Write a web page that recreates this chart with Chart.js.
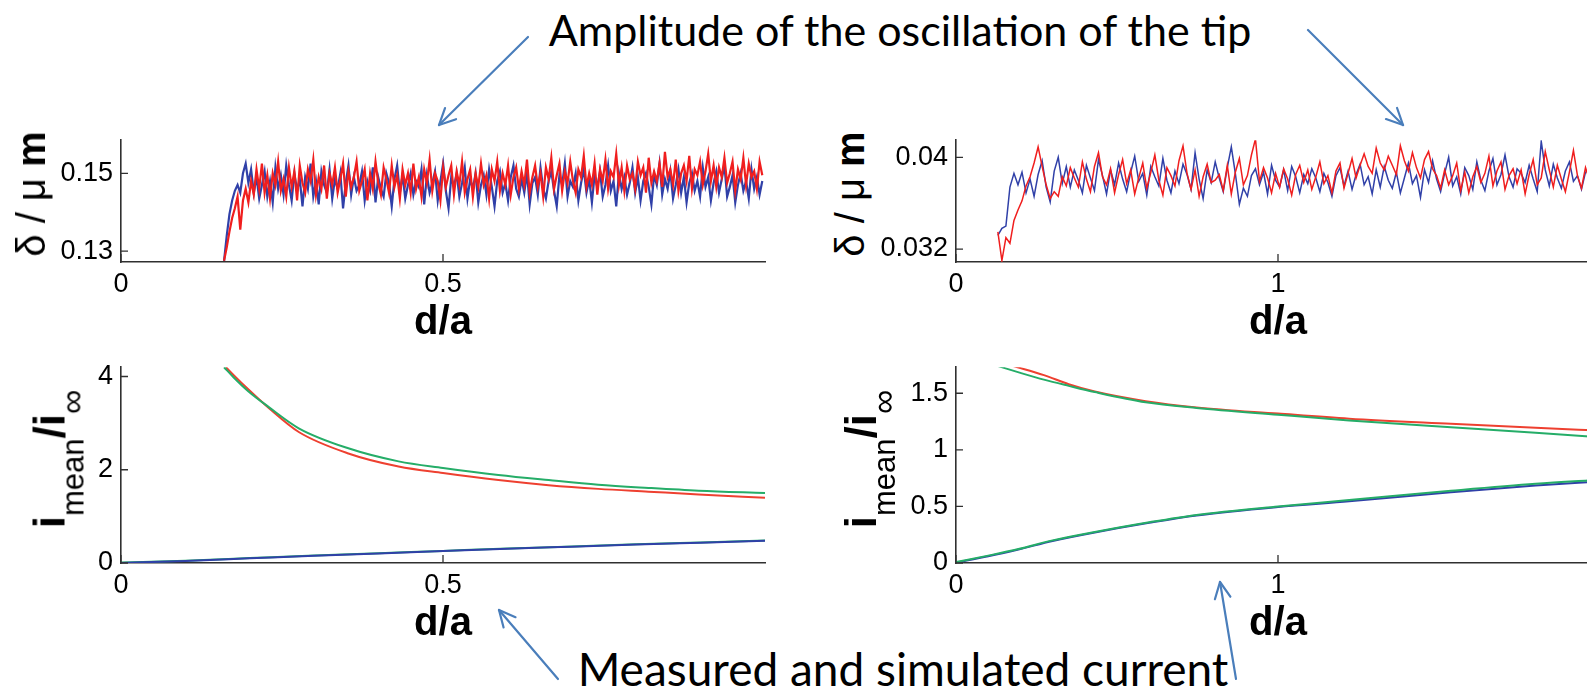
<!DOCTYPE html>
<html>
<head>
<meta charset="utf-8">
<script src="https://cdn.jsdelivr.net/npm/chart.js@4.4.1/dist/chart.umd.min.js"></script>
<style>
html, body { margin: 0; padding: 0; width: 1587px; height: 698px; overflow: hidden; background: #fff; }
canvas { position: absolute; }
.note { position: absolute; font-family: Lato, "Open Sans", sans-serif; color: #000; white-space: nowrap; line-height: 1; transform: translateX(-50%); }
.ylab { position: absolute; font-family: "Liberation Sans", Arial, sans-serif; color: #000; white-space: nowrap; line-height: 1; transform: translate(-50%, -50%) rotate(-90deg); }
.ylab sub { font-size: 31px; vertical-align: -19px; line-height: 1; }
svg { position: absolute; left: 0; top: 0; }
</style>
</head>
<body>
<div class="note" style="left:900px; top:8px; font-size:43px;">Amplitude of the oscillation of the tip</div>
<div class="note" style="left:903px; top:646px; font-size:46px;">Measured and simulated current</div>

<canvas id="ampLeft"></canvas>
<canvas id="ampRight"></canvas>
<canvas id="curLeft"></canvas>
<canvas id="curRight"></canvas>

<div class="ylab" style="left:31px; top:194px; font-size:40px;">δ / μ <b>m</b></div>
<div class="ylab" style="left:850px; top:194px; font-size:40px;">δ / μ <b>m</b></div>
<div class="ylab" style="left:58px; top:459px; font-size:44px;"><b>i</b><sub>mean</sub><b>/i</b><sub style="font-size:34px;">∞</sub></div>
<div class="ylab" style="left:869px; top:459px; font-size:44px;"><b>i</b><sub>mean</sub><b>/i</b><sub style="font-size:34px;">∞</sub></div>

<svg id="arrows" width="1587" height="698"></svg>

<script>
// ---- top row: tip oscillation amplitude, values in nm (plotted in µm) ----
const ampLeftStart = 0.16, ampLeftStep = 0.0042;
const ampLeftRed = [
  127.5,131,135,138.5,141,144,135.5,143,146,142.5,
  148,144.5,151,146,152.5,145,149.5,143.5,150,147,153,145.5,148.5,144,151.5,146.5,150.5,143,152,147.5,
  145,151,148,153.5,144.5,149,146,152,143.5,150,147,151.5,145,148.5,152.5,144,150.5,146.5,149,153,
  145.5,148,151,143,150,146,153,147.5,144.5,151.5,148.5,145,152,146.5,149.5,143.5,151,147,150,145,
  152.5,146,149,144,151,147.5,153.5,145.5,150,148,143,151.5,146.5,149.5,152,144.5,150.5,147,153,145,
  148.5,151,144,150,146.5,152.5,147,149.5,143.5,151,148,153,145.5,150,147,152,144.5,149,151.5,146,
  150.5,147,153.5,145,149,152,146.5,150,144,151.5,148.5,154,146,149.5,152.5,145.5,150.5,147.5,153,148,
  145,151,149,154.5,146.5,150,147,152.5,144.5,151,148,153.5,146,150.5,149,155,147,151.5,145.5,152,
  148.5,150,146,153,149.5,151.5,145,154,147.5,150.5,148,152.5,146.5,155.5,149,151,147,153.5,145.5,150,
  152,148,154.5,146,151,149.5,153,147,150.5,155,148,152,146.5,151.5,149,154,147.5,150,153,145.5,
  151,148.5,154,147,152.5,149,150.5,146,153,149.5
];
const ampLeftBlue = [
  127.5,134,139.5,143,145.5,147,145,150,152.5,147.5,
  151,145,149,143.5,147,150.5,144,148,142.5,151.5,146,149.5,144.5,152,147,143,150,145.5,148.5,141.5,
  149,146,152.5,144,148,142,150.5,147,145,151,143.5,148.5,146,150,141,147.5,152,144.5,149,145.5,
  147,150.5,143,148,145.5,151.5,142.5,149,146,144,150,147.5,141.5,148.5,152,145,149.5,143.5,147,150,
  144.5,148,146.5,151,142,149.5,145,147.5,150.5,143,148,152.5,145.5,141,149,146.5,150,144,147.5,151.5,
  143.5,148.5,146,150,142.5,147,149.5,144.5,151,146.5,141.5,148,150.5,145,147.5,143,149,152,146,144,
  148.5,145,150,142,147.5,149,144.5,151.5,146,143.5,148,150.5,145.5,141.5,149.5,147,152.5,144,148,146.5,
  150,143,147.5,151,145,148.5,142.5,149.5,146.5,150.5,144,147,152,145.5,148,141.5,150,146,149,144.5,
  147.5,151.5,145,149,143,148,150,146.5,142,149.5,147,152.5,144.5,148.5,146,150.5,143.5,147,151,145,
  149,142.5,147.5,150,145.5,148,144,151.5,146.5,149,143,147.5,150.5,145,148.5,152,144,146.5,149.5,142.5,
  147,150,145.5,148,143.5,151,146,149,144.5,148
];

const ampRightStart = 0.13, ampRightStep = 0.0125;
const ampRightRed = [
  33.5,31.0,33.0,32.5,34.5,35.4,36.2,37.5,38.3,39.5,40.9,39.2,37.6,36.4,37.0,36.6,38.3,37.5,39.1,38.2,
  37.4,39.6,38.1,37.0,39.2,40.4,38.3,37.6,39.0,36.9,
  38.5,39.8,37.7,38.9,36.8,38.2,39.5,37.3,38.7,40.2,
  38.0,36.7,39.1,38.4,37.5,39.7,41.0,38.6,37.2,38.9,
  36.6,38.3,39.4,37.8,38.0,38.5,37.1,39.3,36.8,38.7,
  39.9,37.6,38.4,40.2,41.6,37.9,39.1,38.2,36.9,38.6,
  37.4,39.0,38.1,36.7,38.5,39.3,37.8,38.9,37.2,38.3,
  39.6,37.7,38.4,36.9,38.8,39.5,37.3,38.6,39.9,38.2,
  39.3,40.3,39.2,38.6,40.8,39.5,38.9,40.1,39.3,38.5,
  41.0,39.7,38.8,40.4,39.1,38.2,39.8,40.5,39.0,38.4,
  37.3,38.9,37.6,38.4,39.5,37.1,38.7,36.9,38.3,39.2,
  37.8,38.6,40.1,37.5,38.8,39.6,37.2,38.4,39.0,37.7,
  38.9,36.8,38.5,39.8,37.6,38.2,40.5,38.9,37.4,39.3,
  38.1,37.0,38.7,40.6,38.4,37.3,39.1,38.0,37.6,38.8
];
const ampRightBlue = [
  33.2,33.8,34.0,37.4,38.6,37.6,38.7,36.9,38.1,36.6,38.5,39.7,37.4,36.1,38.8,40.0,37.7,39.2,37.4,38.9,
  38.0,36.9,39.3,38.2,37.1,39.8,38.4,36.8,38.9,37.6,
  39.5,38.1,37.0,38.7,40.1,37.9,38.6,36.7,39.2,38.3,
  37.5,39.9,38.0,36.9,38.8,37.7,39.4,38.5,37.2,40.4,
  38.1,36.4,38.9,37.8,39.6,38.2,37.0,39.1,40.9,38.6,
  35.9,37.3,36.6,38.4,39.0,37.6,38.7,36.8,39.3,38.0,
  37.4,38.9,37.1,39.2,38.3,36.9,38.5,37.7,39.0,38.2,
  37.0,38.6,37.8,36.6,38.4,39.1,37.5,38.8,37.2,38.5,
  39.4,37.6,38.3,36.8,38.9,37.4,39.2,38.0,37.3,38.7,
  36.9,38.2,39.5,37.7,38.4,36.5,38.9,37.8,39.7,38.1,
  37.0,38.6,40.0,37.5,38.3,36.8,39.1,38.4,37.2,39.6,
  38.0,37.1,38.8,39.9,37.6,38.5,40.2,38.3,37.4,39.0,
  38.6,37.8,39.3,38.1,37.0,41.4,38.9,37.5,39.4,38.2,
  37.3,38.8,39.6,37.9,38.4,37.2,38.7,38.9,37.6,38.4
];

// ---- bottom row: normalised mean current ----
const curLeftGreenUpX = [0.16,0.175,0.198,0.229,0.276,0.353,0.431,0.5,0.586,0.664,0.741,0.819,0.897,1.0];
const curLeftGreenUp  = [4.2,3.98,3.68,3.35,2.89,2.46,2.18,2.04,1.89,1.78,1.68,1.61,1.55,1.50];
const curLeftRedX = [0.163,0.175,0.198,0.229,0.276,0.353,0.431,0.5,0.586,0.664,0.741,0.819,0.897,1.0];
const curLeftRed  = [4.2,4.03,3.72,3.33,2.81,2.35,2.07,1.93,1.78,1.67,1.59,1.53,1.47,1.40];
const curLeftLowX = [0,0.1,0.2,0.3,0.4,0.5,0.6,0.7,0.8,0.9,1.0];
const curLeftGreenLow = [0.01,0.05,0.105,0.16,0.21,0.26,0.31,0.355,0.40,0.44,0.48];
const curLeftBlue     = [0.0,0.045,0.10,0.155,0.205,0.255,0.305,0.35,0.395,0.435,0.475];

const curRightGreenUpX = [0.131,0.2,0.273,0.35,0.431,0.589,0.747,1.0,1.221,1.537,1.8,2.0];
const curRightGreenUp  = [1.74,1.68,1.62,1.565,1.51,1.42,1.37,1.31,1.26,1.20,1.15,1.11];
const curRightRedX = [0.178,0.273,0.35,0.431,0.589,0.747,1.0,1.221,1.537,1.8,2.0];
const curRightRed  = [1.74,1.66,1.58,1.515,1.43,1.375,1.32,1.275,1.23,1.195,1.17];
const curRightLowX = [0,0.1,0.194,0.3,0.431,0.6,0.747,1.0,1.221,1.537,1.8,2.0];
const curRightGreenLow = [0.008,0.065,0.123,0.20,0.274,0.36,0.425,0.50,0.556,0.638,0.70,0.735];
const curRightBlue     = [0.005,0.06,0.12,0.195,0.27,0.355,0.42,0.495,0.545,0.625,0.685,0.72];

// tick values (the right panels are cut at the page edge, before x = 2)
const ampLeftXTicks = [0, 0.5], ampLeftYTicks = [0.13, 0.15];
const ampRightXTicks = [0, 1], ampRightYTicks = [0.032, 0.04];
const curLeftXTicks = [0, 0.5], curLeftYTicks = [0, 2, 4];
const curRightXTicks = [0, 1], curRightYTicks = [0, 0.5, 1, 1.5];

const RED = '#f01e1e', BLUE = '#3040a8', GREEN = '#25ad68', CRED = '#ee4030';
const AXIS = '#303030';
const FONT = '"Liberation Sans", Arial, sans-serif';

function evenSeries(start, step, vals, scale) {
    return vals.map((v, i) => ({ x: start + i * step, y: v * scale }));
}
function pairSeries(xs, ys) {
    return xs.map((x, i) => ({ x: x, y: ys[i] }));
}

// MATLAB style inward tick marks
const inwardTicks = {
    id: 'inwardTicks',
    afterDatasetsDraw(chart) {
        const { ctx, chartArea, scales } = chart;
        ctx.save();
        ctx.strokeStyle = AXIS;
        ctx.lineWidth = 1.3;
        ctx.beginPath();
        scales.x.ticks.forEach(t => {
            const px = scales.x.getPixelForValue(t.value);
            ctx.moveTo(px, chartArea.bottom);
            ctx.lineTo(px, chartArea.bottom - 8);
        });
        scales.y.ticks.forEach(t => {
            const py = scales.y.getPixelForValue(t.value);
            ctx.moveTo(chartArea.left, py);
            ctx.lineTo(chartArea.left + 7, py);
        });
        ctx.stroke();
        ctx.restore();
    }
};

function makePanel(id, box, xMax, yMin, yMax, xTicks, yTicks, datasets) {
    const padTop = 10, padRight = 5, yW = 80, xH = 85;
    const canvas = document.getElementById(id);
    canvas.width = (box.right - box.left) + yW + padRight;
    canvas.height = (box.bottom - box.top) + padTop + xH;
    canvas.style.left = (box.left - yW) + 'px';
    canvas.style.top = (box.top - padTop) + 'px';
    return new Chart(canvas, {
        type: 'line',
        data: { datasets: datasets },
        plugins: [inwardTicks],
        options: {
            responsive: false,
            animation: false,
            events: [],
            layout: { padding: { top: padTop, right: padRight, left: 0, bottom: 0 } },
            plugins: { legend: { display: false }, tooltip: { enabled: false } },
            elements: { point: { radius: 0 } },
            scales: {
                x: {
                    type: 'linear', min: 0, max: xMax,
                    afterBuildTicks: s => { s.ticks = xTicks.map(v => ({ value: v })); },
                    afterFit: s => { s.height = xH; },
                    grid: { display: false, drawTicks: false },
                    border: { display: true, color: AXIS, width: 1.6 },
                    ticks: { color: '#000', font: { family: FONT, size: 27 }, padding: 6,
                             maxRotation: 0, autoSkip: false, callback: v => String(v) },
                    title: { display: true, text: 'd/a', color: '#000', padding: 0,
                             font: { family: FONT, size: 40, weight: 'bold' } }
                },
                y: {
                    type: 'linear', min: yMin, max: yMax,
                    afterBuildTicks: s => { s.ticks = yTicks.map(v => ({ value: v })); },
                    afterFit: s => { s.width = yW; },
                    grid: { display: false, drawTicks: false },
                    border: { display: true, color: AXIS, width: 1.6 },
                    ticks: { color: '#000', font: { family: FONT, size: 27 }, padding: 8,
                             autoSkip: false, callback: v => String(v) }
                }
            }
        }
    });
}

makePanel('ampLeft', { left: 121, right: 765, top: 126, bottom: 262 }, 1.0, 0.1272, 0.1585,
    ampLeftXTicks, ampLeftYTicks, [
        { data: evenSeries(ampLeftStart, ampLeftStep, ampLeftRed, 0.001), borderColor: RED, borderWidth: 2.2 },
        { data: evenSeries(ampLeftStart, ampLeftStep, ampLeftBlue, 0.001), borderColor: BLUE, borderWidth: 2.2 }
    ]);

makePanel('ampRight', { left: 956, right: 1600, top: 126, bottom: 262 }, 2.0, 0.03087, 0.04149,
    ampRightXTicks, ampRightYTicks, [
        { data: evenSeries(ampRightStart, ampRightStep, ampRightRed, 0.001), borderColor: RED, borderWidth: 1.5 },
        { data: evenSeries(ampRightStart, ampRightStep, ampRightBlue, 0.001), borderColor: BLUE, borderWidth: 1.5 }
    ]);

makePanel('curLeft', { left: 121, right: 765, top: 353, bottom: 563 }, 1.0, 0, 4.2,
    curLeftXTicks, curLeftYTicks, [
        { data: pairSeries(curLeftLowX, curLeftBlue), borderColor: BLUE, borderWidth: 2, cubicInterpolationMode: 'monotone' },
        { data: pairSeries(curLeftLowX, curLeftGreenLow), borderColor: GREEN, borderWidth: 2, cubicInterpolationMode: 'monotone' },
        { data: pairSeries(curLeftGreenUpX, curLeftGreenUp), borderColor: GREEN, borderWidth: 2, cubicInterpolationMode: 'monotone' },
        { data: pairSeries(curLeftRedX, curLeftRed), borderColor: CRED, borderWidth: 2, cubicInterpolationMode: 'monotone' }
    ]);

makePanel('curRight', { left: 956, right: 1600, top: 353, bottom: 563 }, 2.0, 0, 1.73,
    curRightXTicks, curRightYTicks, [
        { data: pairSeries(curRightLowX, curRightGreenLow), borderColor: GREEN, borderWidth: 2, cubicInterpolationMode: 'monotone' },
        { data: pairSeries(curRightLowX, curRightBlue), borderColor: BLUE, borderWidth: 2, cubicInterpolationMode: 'monotone' },
        { data: pairSeries(curRightGreenUpX, curRightGreenUp), borderColor: GREEN, borderWidth: 2, cubicInterpolationMode: 'monotone' },
        { data: pairSeries(curRightRedX, curRightRed), borderColor: CRED, borderWidth: 2, cubicInterpolationMode: 'monotone' }
    ]);

// annotation arrows (page pixels: tail -> head)
const arrowLines = [
    [528, 37, 439, 125],
    [1308, 30, 1403, 125],
    [558, 679, 499, 610],
    [1236, 679, 1220, 582]
];
const svg = document.getElementById('arrows');
const NS = 'http://www.w3.org/2000/svg';
function addLine(x1, y1, x2, y2) {
    const l = document.createElementNS(NS, 'line');
    l.setAttribute('x1', x1); l.setAttribute('y1', y1);
    l.setAttribute('x2', x2); l.setAttribute('y2', y2);
    l.setAttribute('stroke', '#4a7ebb');
    l.setAttribute('stroke-width', '2.2');
    l.setAttribute('stroke-linecap', 'round');
    svg.appendChild(l);
}
arrowLines.forEach(([x1, y1, x2, y2]) => {
    addLine(x1, y1, x2, y2);
    const ang = Math.atan2(y1 - y2, x1 - x2);
    const len = 18, spread = 0.45;
    addLine(x2, y2, x2 + len * Math.cos(ang + spread), y2 + len * Math.sin(ang + spread));
    addLine(x2, y2, x2 + len * Math.cos(ang - spread), y2 + len * Math.sin(ang - spread));
});
</script>
</body>
</html>
